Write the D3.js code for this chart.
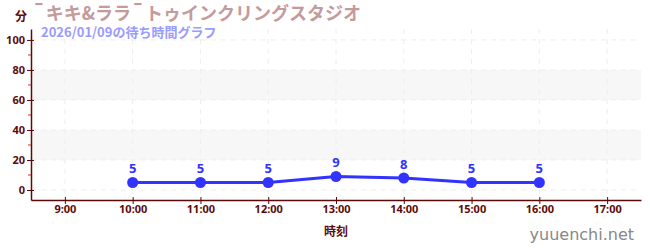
<!DOCTYPE html>
<html>
<head>
<meta charset="utf-8">
<script src="https://cdn.jsdelivr.net/npm/d3@7"></script>
<style>
  body { margin: 0; background: #fff; }
  svg { display: block; font-family: "Noto Sans CJK JP", "Noto Sans", sans-serif; }
</style>
</head>
<body>
<div class="app"></div>
<script>
// wait time data
var times = ["10:00", "11:00", "12:00", "13:00", "14:00", "15:00", "16:00"];
var waits = [5, 5, 5, 9, 8, 5, 5];
var hourTicks = [9, 10, 11, 12, 13, 14, 15, 16, 17];
var yTicks = [0, 20, 40, 60, 80, 100];
var yMinor = [10, 30, 50, 70, 90];
var bands = [[20, 40], [60, 80]];

var title = "¯キキ&ララ¯トゥインクリングスタジオ";
var subtitle = "2026/01/09の待ち時間グラフ";

var W = 650, H = 250;
var margin = {top: 29, right: 9, bottom: 50, left: 31},
    width = W - margin.left - margin.right,
    height = H - margin.top - margin.bottom;

var axisColor = "#5c0a0a";

var parseHour = function(s) { var p = s.split(":"); return +p[0] + (+p[1]) / 60; };
var data = times.map(function(t, i) { return {hour: parseHour(t), value: waits[i]}; });

var x = d3.scaleLinear().domain([8.5, 17.5]).range([0, width]);
var y = d3.scaleLinear().domain([-6.67, 107.3]).range([height, 0]);

var svg = d3.select(".app").append("svg")
    .attr("width", W)
    .attr("height", H);

var g = svg.append("g")
    .attr("transform", "translate(" + margin.left + "," + margin.top + ")");

// shaded bands
g.selectAll(".band").data(bands).enter().append("rect")
    .attr("x", 0)
    .attr("width", width)
    .attr("y", function(d) { return y(d[1]); })
    .attr("height", function(d) { return y(d[0]) - y(d[1]); })
    .attr("fill", "#f7f7f7");

// grid
g.selectAll(".hgrid").data(yTicks).enter().append("line")
    .attr("x1", 0).attr("x2", width)
    .attr("y1", function(d) { return y(d); })
    .attr("y2", function(d) { return y(d); })
    .attr("stroke", "#eeeeee")
    .attr("stroke-dasharray", "5,5");
g.selectAll(".vgrid").data(hourTicks).enter().append("line")
    .attr("y1", 0).attr("y2", height)
    .attr("x1", function(d) { return x(d); })
    .attr("x2", function(d) { return x(d); })
    .attr("stroke", "#eeeeee")
    .attr("stroke-dasharray", "5,5");

// axes
var xAxis = g.append("g")
    .attr("transform", "translate(0," + height + ")")
    .call(d3.axisBottom(x).tickValues(hourTicks).tickSize(4).tickSizeOuter(0)
        .tickFormat(function(d) { return d + ":00"; }));
var yAxis = g.append("g")
    .call(d3.axisLeft(y).tickValues(yTicks).tickSize(4).tickSizeOuter(0));

g.selectAll(".minor").data(yMinor).enter().append("line")
    .attr("x1", -3).attr("x2", 0)
    .attr("y1", function(d) { return y(d); })
    .attr("y2", function(d) { return y(d); })
    .attr("stroke", "#d03030");

[xAxis, yAxis].forEach(function(a) {
  a.select(".domain").attr("stroke", axisColor).attr("stroke-width", 1.5);
  a.selectAll(".tick line").attr("stroke", axisColor);
  a.selectAll(".tick text")
      .attr("fill", axisColor)
      .attr("font-size", 11)
      .attr("font-weight", "bold")
      .attr("font-family", "'Noto Sans', sans-serif");
});
yAxis.selectAll(".tick line").attr("x1", 3).attr("x2", -4);
xAxis.selectAll(".tick line").attr("y1", -3);
xAxis.selectAll(".tick text").attr("y", 5);
yAxis.selectAll(".tick text").attr("x", -6);

// line
var line = d3.line()
    .x(function(d) { return x(d.hour); })
    .y(function(d) { return y(d.value); });

g.append("path")
    .datum(data)
    .attr("fill", "none")
    .attr("stroke", "#3333ff")
    .attr("stroke-width", 3)
    .attr("stroke-linejoin", "round")
    .attr("d", line);

g.selectAll(".dot").data(data).enter().append("circle")
    .attr("cx", function(d) { return x(d.hour); })
    .attr("cy", function(d) { return y(d.value); })
    .attr("r", 5.5)
    .attr("fill", "#3333ff");

g.selectAll(".lbl").data(data).enter().append("text")
    .attr("x", function(d) { return x(d.hour); })
    .attr("y", function(d) { return y(d.value) - 9; })
    .attr("text-anchor", "middle")
    .attr("fill", "#3333ff")
    .attr("font-size", 13)
    .attr("font-weight", "bold")
    .attr("font-family", "'Noto Sans', sans-serif")
    .text(function(d) { return d.value; });

// titles (macron drawn a bit larger, like the CJK font in the original)
var t = svg.append("text")
    .attr("x", 32).attr("y", 20)
    .attr("fill", "#c49a9a")
    .attr("font-size", 18)
    .attr("font-weight", "bold");
title.split(/(¯)/).filter(function(s) { return s.length; }).forEach(function(s) {
  var ts = t.append("tspan").text(s);
  if (s === "¯") ts.attr("font-size", 22);
});

svg.append("text")
    .attr("x", 41).attr("y", 37)
    .attr("fill", "#9a9aff")
    .attr("font-size", 13)
    .attr("font-weight", "bold")
    .text(subtitle);

svg.append("text")
    .attr("x", 15).attr("y", 21)
    .attr("fill", axisColor)
    .attr("font-size", 12)
    .attr("font-weight", "bold")
    .text("分");

svg.append("text")
    .attr("x", margin.left + width / 2).attr("y", 236)
    .attr("text-anchor", "middle")
    .attr("fill", axisColor)
    .attr("font-size", 12)
    .attr("font-weight", "bold")
    .text("時刻");

svg.append("text")
    .attr("x", 634).attr("y", 240)
    .attr("text-anchor", "end")
    .attr("fill", "#888")
    .attr("font-size", 16)
    .attr("font-family", "'DejaVu Sans', sans-serif")
    .text("yuuenchi.net");
</script>
</body>
</html>
